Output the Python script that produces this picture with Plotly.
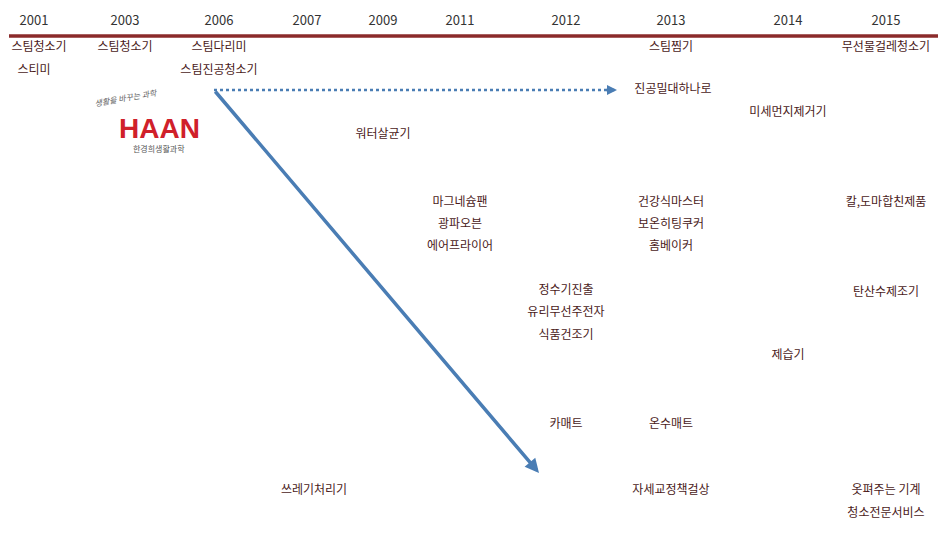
import plotly.graph_objects as go

years = ["2001","2003","2006","2007","2009","2011","2012","2013","2014","2015"]
year_x = [33,124,218,306,382,459,565,670,787,885]

item_labels = ["스팀청소기","스티미","스팀청소기","스팀다리미","스팀진공청소기","스팀찜기","무선물걸레청소기",
               "진공밀대하나로","미세먼지제거기","워터살균기",
               "마그네슘팬","광파오븐","에어프라이어",
               "건강식마스터","보온히팅쿠커","홈베이커","칼,도마합친제품",
               "정수기진출","유리무선주전자","식품건조기","탄산수제조기","제습기",
               "카매트","온수매트","쓰레기처리기","자세교정책걸상","옷펴주는 기계","청소전문서비스"]
item_x = [38,33,124,218,218,670,885,
          672,787,382,
          459,459,459,
          670,670,670,885,
          565,565,565,885,787,
          565,670,313,670,885,885]
item_y = [45,68,45,45,68,45,45,
          87,110,132,
          200,222,244,
          200,222,244,200,
          288,310,333,290,353,
          422,422,488,488,488,511]

F = "Noto Sans CJK KR"
fig = go.Figure()
fig.add_trace(go.Scatter(x=[8,937], y=[33,33], mode="lines",
                         line=dict(color="#8b2b2b", width=3.5), hoverinfo="skip"))
fig.add_trace(go.Scatter(x=year_x, y=[19]*len(years), mode="text", text=years,
                         textfont=dict(family=F, size=13, color="#333333"), hoverinfo="skip"))
fig.add_trace(go.Scatter(x=item_x, y=item_y, mode="text", text=item_labels,
                         textfont=dict(family=F, size=12, color="#4a1a1a"), hoverinfo="skip"))

fig.add_annotation(x=538, y=470, ax=213, ay=87, xref="x", yref="y", axref="x", ayref="y",
                   showarrow=True, arrowhead=2, arrowsize=0.8, arrowwidth=3.5, arrowcolor="#4a7db4", text="")
fig.add_trace(go.Scatter(x=[213,608], y=[87,87], mode="lines",
                         line=dict(color="#4a7db4", width=2.5, dash="dot"), hoverinfo="skip"))
fig.add_annotation(x=616, y=87, ax=604, ay=87, xref="x", yref="y", axref="x", ayref="y",
                   showarrow=True, arrowhead=2, arrowsize=0.8, arrowwidth=2.5, arrowcolor="#4a7db4", text="")

fig.add_annotation(x=158, y=125, text="<b>HAAN</b>", showarrow=False,
                   font=dict(family="Liberation Sans", size=28, color="#d0202a"))
fig.add_annotation(x=158, y=145, text="한경희생활과학", showarrow=False,
                   font=dict(family=F, size=8, color="#555555"))
fig.add_annotation(x=125, y=94, text="<i>생활을 바꾸는 과학</i>", showarrow=False, textangle=-10,
                   font=dict(family=F, size=8, color="#666666"))

fig.update_layout(width=950, height=536, margin=dict(l=0,r=0,t=0,b=0),
                  plot_bgcolor="white", paper_bgcolor="white", showlegend=False,
                  xaxis=dict(range=[7,957], visible=False, fixedrange=True),
                  yaxis=dict(range=[541,5], visible=False, fixedrange=True))
fig.write_html("out.html")
